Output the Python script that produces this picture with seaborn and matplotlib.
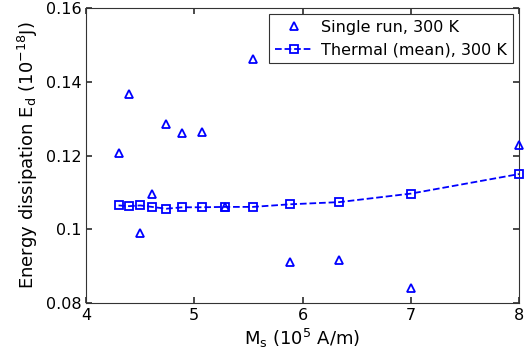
import matplotlib.pyplot as plt
import matplotlib.ticker as mticker
import pandas as pd
import seaborn as sns

sns.set_theme(style="ticks")
plt.rcParams['font.family'] = ['DejaVu Sans']
plt.rcParams['mathtext.default'] = 'regular'
plt.rcParams['text.color'] = 'black'
plt.rcParams['axes.labelcolor'] = 'black'
plt.rcParams['xtick.labelcolor'] = 'black'
plt.rcParams['ytick.labelcolor'] = 'black'

# single run values
ms_single = [4.30, 4.40, 4.50, 4.61, 4.74, 4.89, 5.07, 5.28, 5.54, 5.88, 6.34, 7.0, 8.0]
ed_single = [0.1208, 0.1367, 0.0990, 0.1096, 0.1286, 0.1261, 0.1263, 0.1062,
             0.1461, 0.0912, 0.0917, 0.0842, 0.1229]

# thermal mean values
ms_mean = [4.30, 4.40, 4.50, 4.61, 4.74, 4.89, 5.07, 5.28, 5.54, 5.88, 6.34, 7.0, 8.0]
ed_mean = [0.1065, 0.1063, 0.1065, 0.1061, 0.1056, 0.1060, 0.1060, 0.1061,
           0.1061, 0.1068, 0.1074, 0.1097, 0.1150]

single = pd.DataFrame({"Ms": ms_single, "Ed": ed_single})
mean = pd.DataFrame({"Ms": ms_mean, "Ed": ed_mean})

fig, ax = plt.subplots(figsize=(5.28, 3.64), dpi=100)

ax.plot(single["Ms"], single["Ed"], linestyle="none", marker="^", markersize=6,
        markerfacecolor="none", markeredgecolor="blue", markeredgewidth=1.3,
        label="Single run, 300 K", clip_on=False, zorder=3)
sns.lineplot(data=mean, x="Ms", y="Ed", ax=ax, color="blue", linestyle="--",
             linewidth=1.3, marker="s", markersize=6, markerfacecolor="none",
             markeredgecolor="blue", markeredgewidth=1.3,
             label="Thermal (mean), 300 K", clip_on=False, zorder=3)

ax.set_xlim(4, 8)
ax.set_ylim(0.08, 0.16)
ax.set_xticks([4, 5, 6, 7, 8])
ax.set_yticks([0.08, 0.1, 0.12, 0.14, 0.16])
ax.yaxis.set_major_formatter(mticker.FormatStrFormatter('%g'))
ax.tick_params(direction="in", top=True, right=True, labelsize=11.5, length=4, color="#333333")
for s in ax.spines.values():
    s.set_color("#333333")
    s.set_linewidth(0.8)

ax.set_xlabel("M$_s$ (10$^5$ A/m)", fontsize=13, labelpad=3)
ax.set_ylabel("Energy dissipation E$_d$ (10$^{-18}$J)", fontsize=13, labelpad=4)

leg = ax.legend(loc="upper right", fontsize=11.5, fancybox=False, framealpha=1,
                edgecolor="#333333", borderaxespad=0.4, handlelength=2.4,
                labelspacing=0.45, handletextpad=0.5, borderpad=0.35)
leg.get_frame().set_linewidth(0.8)

fig.subplots_adjust(left=0.163, right=0.983, top=0.978, bottom=0.167)
fig.savefig("out.png", dpi=100)
